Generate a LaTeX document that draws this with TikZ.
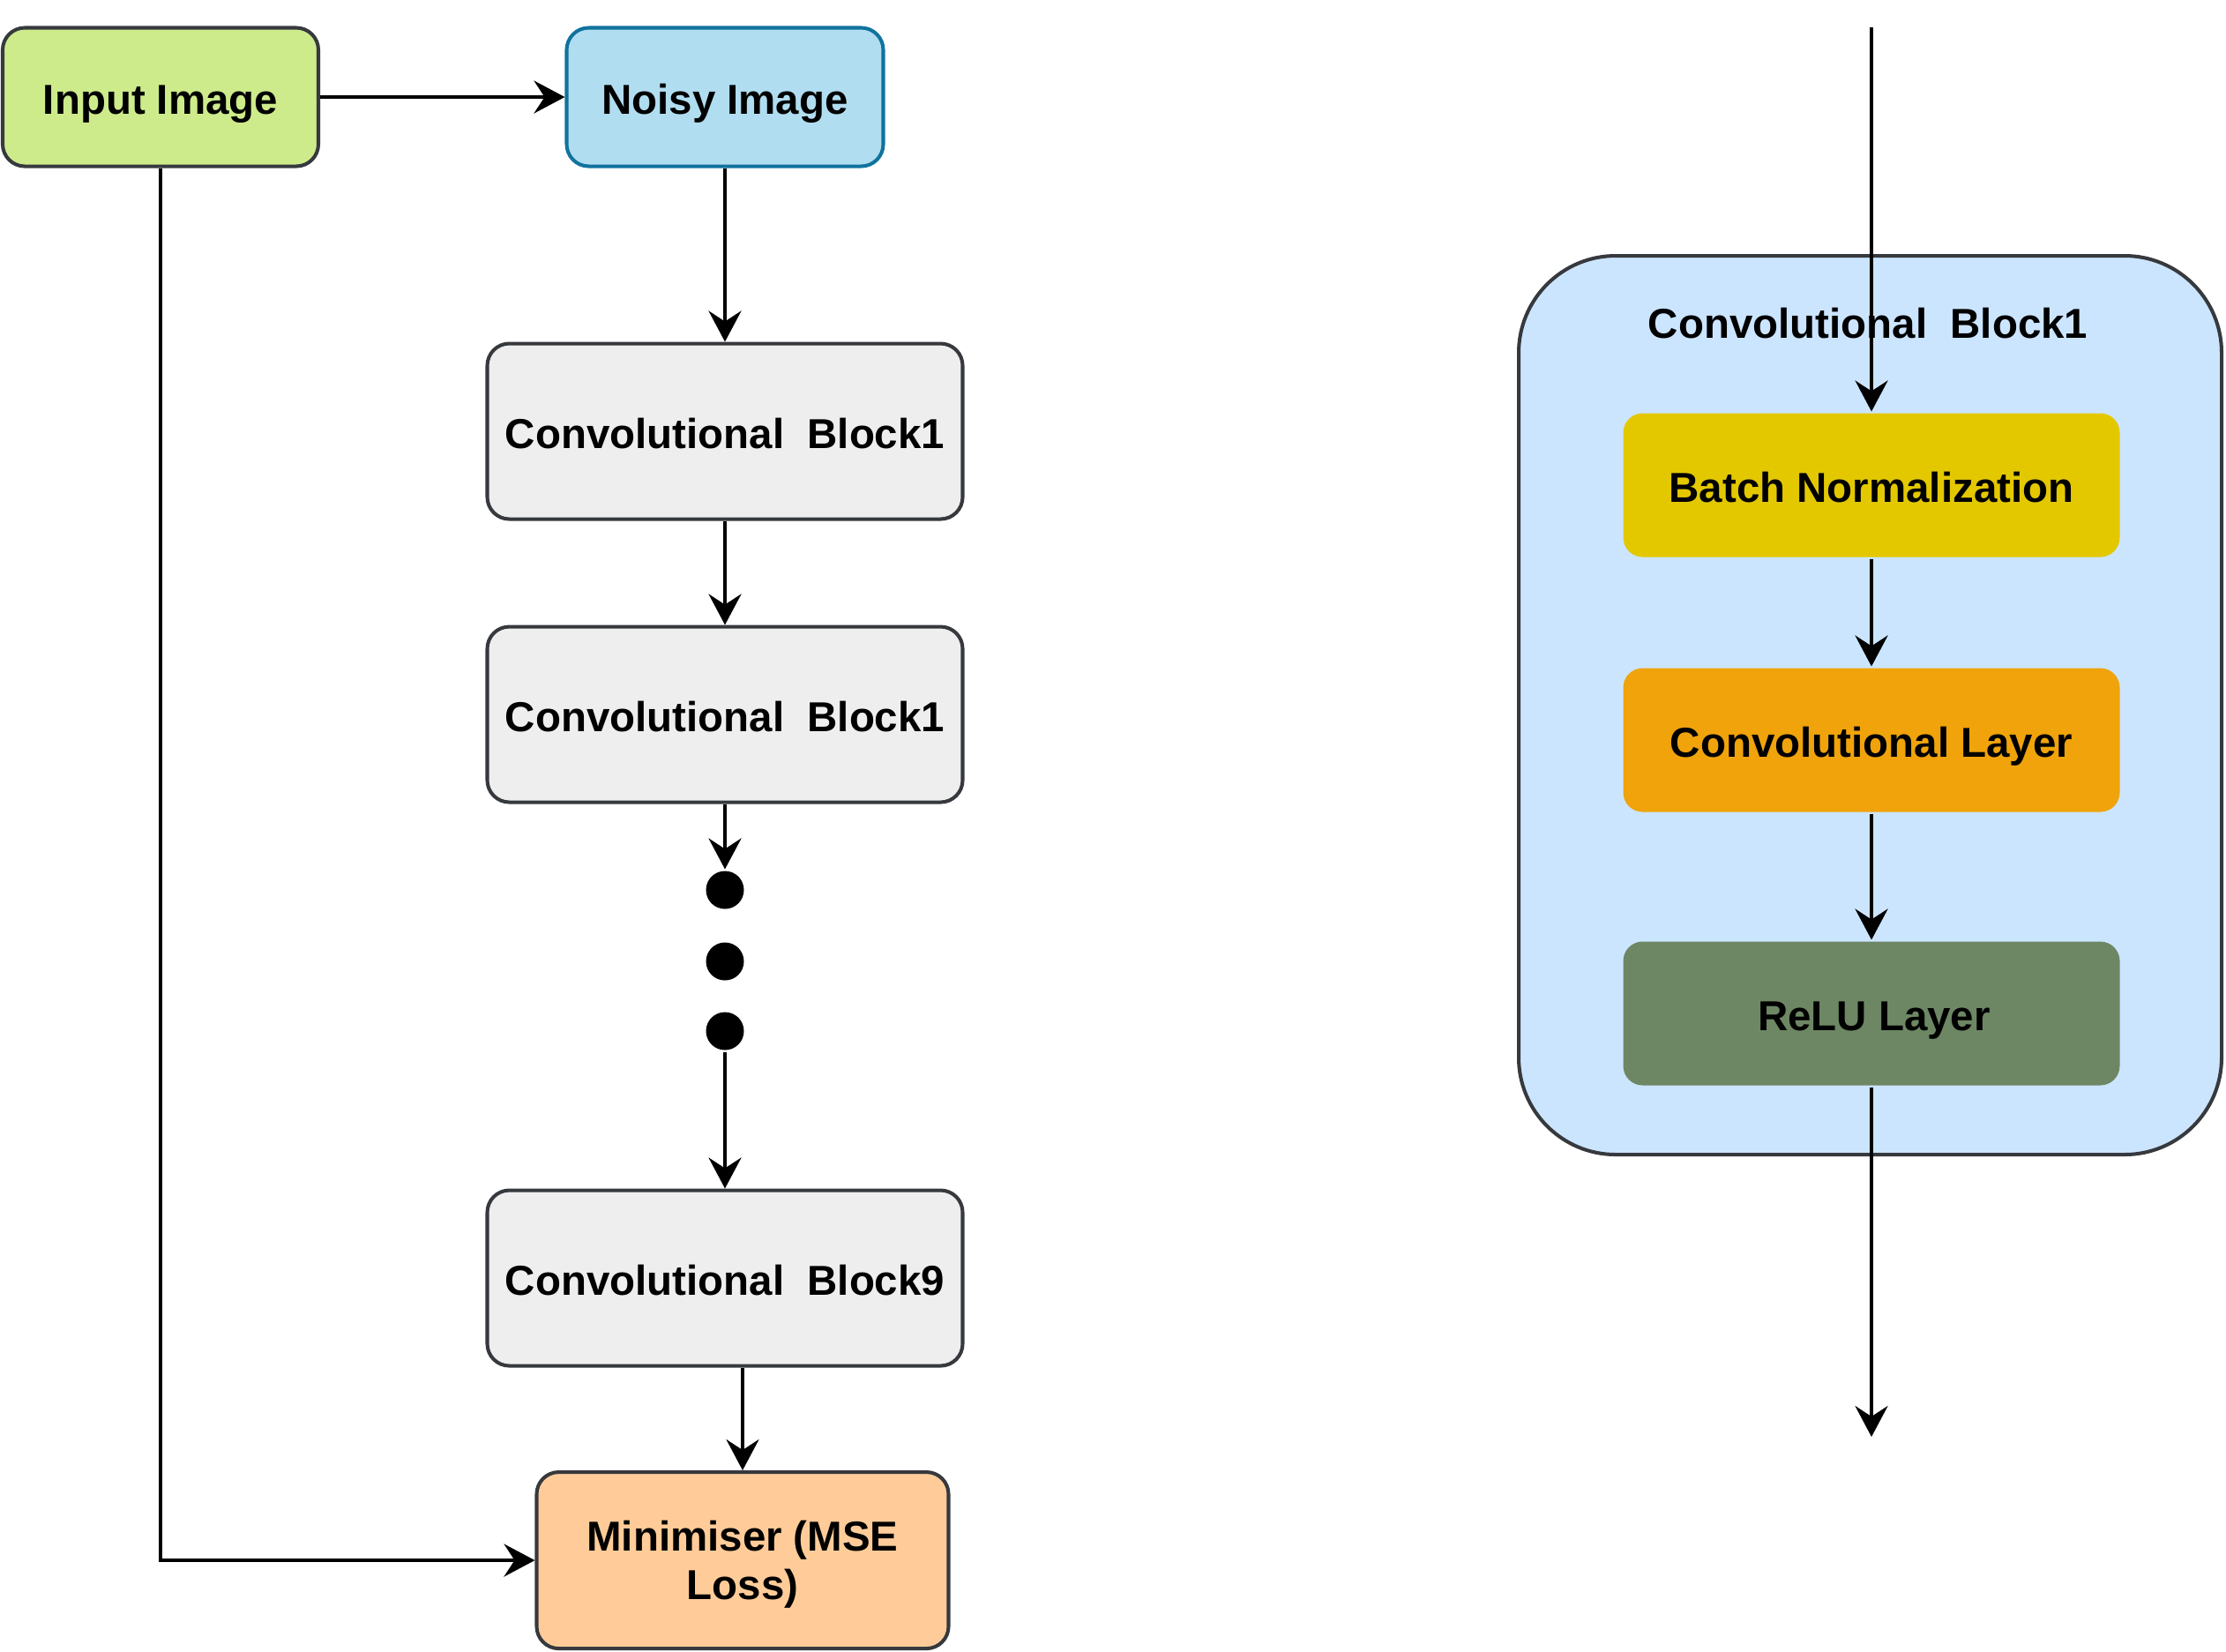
\documentclass[tikz,border=0pt]{standalone}
\usepackage{fontspec}
\setmainfont{Liberation Sans}
\usetikzlibrary{arrows.meta,positioning}

\definecolor{edgegray}{HTML}{36393D}
\definecolor{inpgreen}{HTML}{CDEB8B}
\definecolor{noisyblue}{HTML}{B1DDF0}
\definecolor{noisyedge}{HTML}{10739E}
\definecolor{convgray}{HTML}{EEEEEE}
\definecolor{mseorange}{HTML}{FFCC99}
\definecolor{boxblue}{HTML}{CCE5FF}
\definecolor{bnyellow}{HTML}{E3C800}
\definecolor{clorange}{HTML}{F0A30A}
\definecolor{relugreen}{HTML}{6D8764}

\begin{document}
\begin{tikzpicture}[line width=1.15pt,
    >={Stealth[length=3.5mm,width=3.7mm,inset=1.2mm]},
    every node/.style={font=\fontsize{13.5}{15.6}\selectfont\bfseries, text height=0.40cm, text depth=0.02cm},
    blk/.style={draw=edgegray, line width=1.15pt, rounded corners=0.25cm, align=center, inner sep=0pt},
    conv/.style={blk, fill=convgray, minimum width=5.39cm, minimum height=1.99cm},
    layer/.style={rounded corners=0.22cm, minimum width=5.63cm, minimum height=1.63cm, inner sep=0pt},
    dot/.style={circle, fill=black, minimum size=0.43cm, inner sep=0pt, text height=0pt, text depth=0pt}]
\useasboundingbox (0,0) rectangle (25.24,-18.72);

% left: training pipeline
\node[blk,fill=inpgreen,minimum width=3.58cm,minimum height=1.57cm] (in_img) at (1.82,-1.10) {Input Image};
\node[blk,fill=noisyblue,draw=noisyedge,minimum width=3.59cm,minimum height=1.57cm] (noisy) at (8.22,-1.10) {Noisy Image};
\node[conv] (cb_1) at (8.22,-4.89) {Convolutional\ \ Block1};
\node[conv] (cb_2) at (8.22,-8.10) {Convolutional\ \ Block1};
\node[dot] (dot_1) at (8.22,-10.09) {};
\node[dot] (dot_2) at (8.22,-10.90) {};
\node[dot] (dot_3) at (8.22,-11.69) {};
\node[conv] (cb_9) at (8.22,-14.49) {Convolutional\ \ Block9};
\node[blk,fill=mseorange,minimum width=4.67cm,minimum height=2.0cm,text height=,text depth=-0.06cm] (mse) at (8.42,-17.69) {Minimiser (MSE\\Loss)};

\path[->] (in_img) edge (noisy)
    (noisy) edge (cb_1)
    (cb_1) edge (cb_2)
    (cb_2) edge (dot_1)
    (dot_3) edge (cb_9)
    (cb_9.south -| mse.north) edge (mse.north);
\draw[->] (in_img) |- (mse);

% right: inside a block
\node[draw=edgegray,line width=1.15pt,fill=boxblue,rounded corners=1.1cm,minimum width=7.97cm,minimum height=10.19cm,text height=,text depth=] (block) at (21.205,-7.995) {};
\node (title) at (21.18,-3.64) {Convolutional\ \ Block1};
\node[layer,fill=bnyellow] (bn) at (21.22,-5.50) {Batch Normalization};
\node[layer,fill=clorange] (cl) at (21.22,-8.39) {Convolutional Layer};
\node[layer,fill=relugreen] (relu) at (21.22,-11.49) {\hspace{0.06cm}ReLU Layer};
\coordinate (b_in) at (21.22,-0.31);
\coordinate (b_out) at (21.22,-16.29);

\path[->] (b_in) edge (bn)
    (bn) edge (cl)
    (cl) edge (relu)
    (relu) edge (b_out);
\end{tikzpicture}
\end{document}
